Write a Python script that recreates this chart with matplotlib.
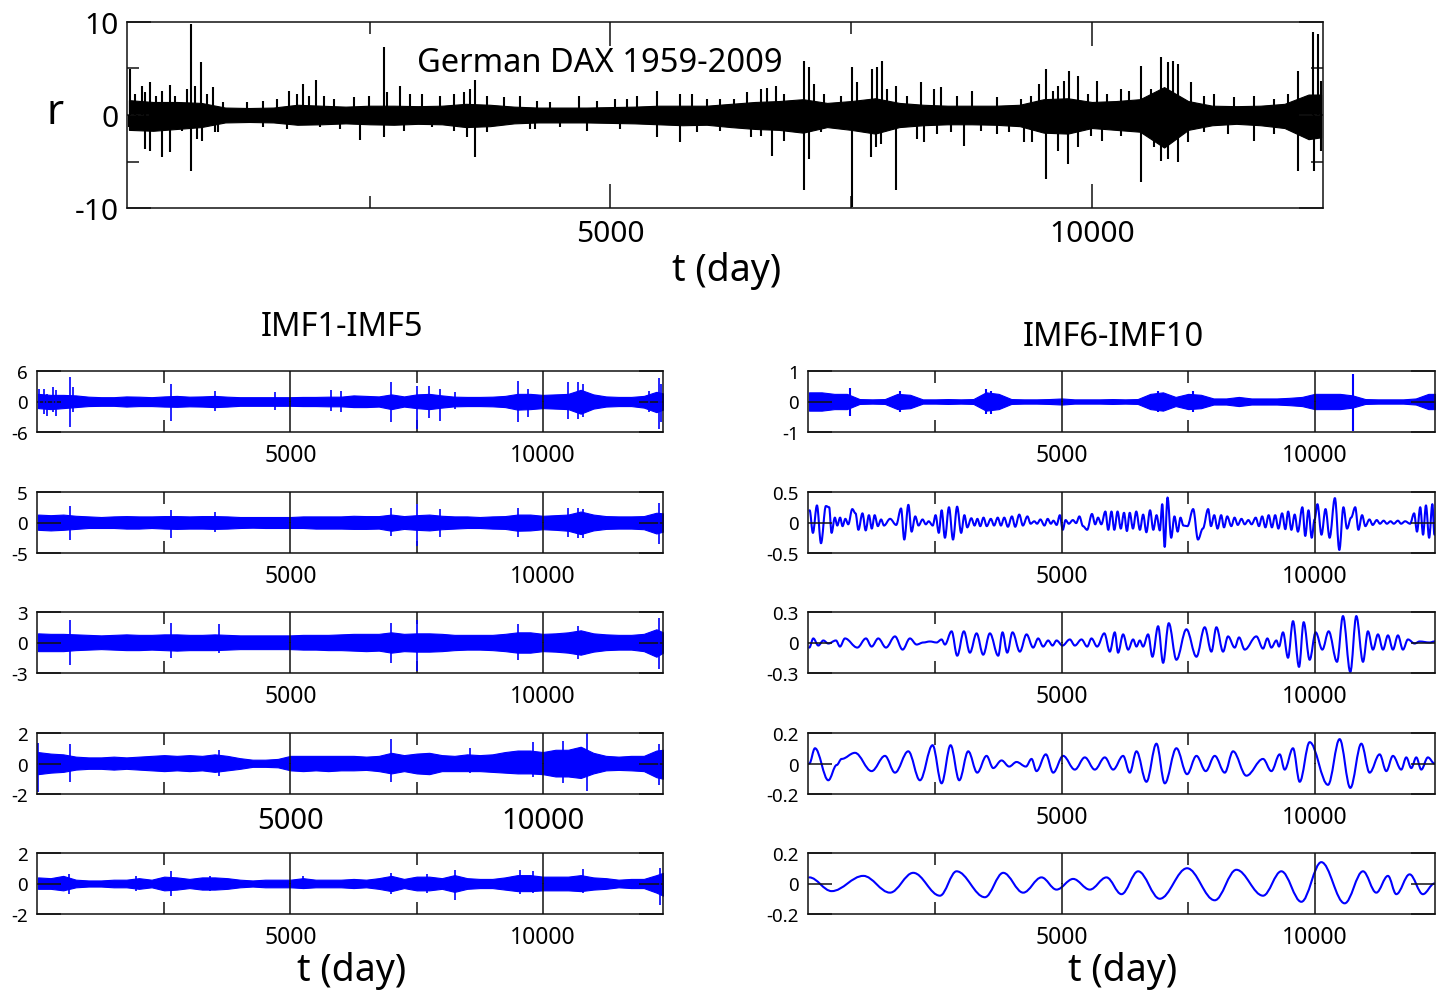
import numpy as np
import matplotlib
matplotlib.use("Agg")
import matplotlib.pyplot as plt
from matplotlib.path import Path
from matplotlib.patches import PathPatch

plt.rcParams['font.family'] = ['Noto Sans', 'DejaVu Sans']
plt.rcParams['axes.unicode_minus'] = False

# ---------------- data ----------------
# sampling days of the envelopes of the dense (noisy) series
env_days = np.append(np.arange(0, 12251, 250), 12380)

# top panel: daily returns r -- solid core of the band
r_upper = [1.6, 1.4, 1.4, 1.3, 0.8, 0.75, 0.8, 1.1, 1.0, 0.9, 1.0, 1.0, 0.95, 1.0, 1.2, 1.1, 0.9, 0.8, 0.8, 0.8,
           0.85, 0.9, 1.0, 1.0, 1.0, 1.2, 1.4, 1.5, 1.7, 1.3, 1.5, 1.8, 1.3, 1.1, 1.0, 1.0, 1.0, 1.1, 1.7, 1.8,
           1.4, 1.5, 1.7, 3.0, 1.5, 1.0, 0.95, 1.0, 1.2, 2.2, 2.2]
r_lower = [-1.6, -1.7, -1.5, -1.3, -0.8, -0.75, -0.8, -1.05, -1.0, -0.9, -1.0, -1.05, -0.95, -1.0, -1.3, -1.2,
           -0.9, -0.8, -0.8, -0.8, -0.85, -0.9, -1.0, -1.1, -1.05, -1.3, -1.5, -1.6, -1.9, -1.3, -1.6, -2.0,
           -1.3, -1.1, -1.0, -1.0, -1.05, -1.2, -1.9, -2.0, -1.4, -1.6, -1.8, -3.5, -1.6, -1.1, -0.95, -1.1,
           -1.4, -2.6, -2.4]
# individual upward / downward excursions of r
r_up_days = [10, 63, 132, 167, 219, 281, 340, 427, 479, 600, 642, 687, 749, 808, 877, 981, 1224, 1397, 1536,
             1667, 1743, 1806, 1865, 1944, 2021, 2125, 2333, 2488, 2644, 2679, 2818, 2922, 3043, 3233, 3372,
             3476, 3545, 3597, 3719, 3892, 4065, 4238, 4376, 4670, 4861, 5052, 5173, 5277, 5485, 5727, 5848,
             6004, 6143, 6282, 6420, 6559, 6628, 6715, 6801, 7009, 7061, 7113, 7217, 7390, 7504, 7564, 7720,
             7772, 7824, 7876, 7962, 8083, 8222, 8361, 8430, 8603, 8759, 9019, 9262, 9365, 9452, 9521, 9591,
             9643, 9712, 9764, 9851, 9955, 10058, 10162, 10301, 10388, 10509, 10613, 10717, 10786, 10838,
             10890, 11029, 11167, 11271, 11479, 11687, 11895, 12034, 12137, 12293, 12345, 12380]
r_up_vals = [4.95, 2.26, 3.15, 2.44, 3.51, 2.08, 2.62, 3.26, 2.08, 2.80, 9.78, 3.15, 5.66, 2.26, 3.05, 1.36, 1.36,
             1.54, 1.72, 2.62, 2.26, 3.33, 2.08, 3.76, 2.08, 1.72, 1.90, 2.08, 7.28, 2.44, 3.15, 2.26, 2.26, 2.08,
             2.26, 2.44, 2.80, 3.76, 2.08, 1.90, 2.08, 1.54, 1.36, 2.08, 1.54, 1.72, 1.72, 2.08, 2.54, 2.26, 2.26,
             1.72, 1.72, 1.72, 2.44, 2.80, 2.90, 3.15, 2.26, 5.84, 5.13, 3.33, 2.26, 2.08, 5.13, 3.51, 4.95, 5.13,
             5.84, 2.80, 3.15, 2.08, 3.51, 2.80, 2.97, 2.08, 2.62, 1.90, 1.72, 2.08, 3.33, 4.95, 2.62, 3.15, 3.69,
             4.77, 4.23, 2.26, 3.69, 2.26, 2.80, 2.62, 5.30, 2.80, 6.20, 5.66, 5.84, 5.48, 3.51, 2.08, 2.26, 1.90,
             2.08, 1.72, 2.26, 4.77, 8.89, 8.71, 3.69]
r_dn_days = [0, 80, 167, 219, 340, 427, 548, 642, 704, 756, 894, 929, 1397, 1640, 1986, 2194, 2402, 2644, 2852,
             3147, 3372, 3511, 3597, 3719, 4169, 4220, 4480, 4757, 5104, 5485, 5727, 5900, 6143, 6455, 6559,
             6680, 6801, 7009, 7061, 7182, 7390, 7504, 7702, 7754, 7806, 7962, 8187, 8257, 8395, 8534, 8672,
             8846, 9019, 9140, 9296, 9383, 9521, 9643, 9747, 9851, 9989, 10110, 10301, 10509, 10648, 10717,
             10786, 10890, 10994, 11167, 11410, 11687, 11895, 12137, 12310, 12380]
r_dn_vals = [-1.33, -1.51, -3.66, -3.84, -4.55, -4.01, -1.68, -6.02, -2.58, -2.76, -1.86, -1.86, -1.33, -1.51,
             -1.33, -1.51, -2.69, -2.40, -1.68, -1.33, -1.68, -2.40, -4.55, -1.86, -1.51, -1.51, -1.33, -1.68,
             -1.51, -2.40, -2.94, -1.86, -1.68, -2.40, -2.22, -4.37, -2.76, -8.06, -4.73, -1.86, -1.51, -9.93,
             -4.55, -3.48, -3.12, -8.06, -2.58, -2.94, -2.04, -1.86, -3.30, -1.68, -2.04, -1.86, -2.94, -2.94,
             -6.88, -3.84, -5.27, -3.48, -2.22, -2.76, -2.22, -7.24, -3.48, -4.91, -4.73, -5.09, -2.94, -1.86,
             -2.04, -2.76, -2.04, -5.98, -5.98, -3.84]

# IMF1 - IMF6 (dense): envelopes of the solid core
imf1_upper = [1.5, 1.3, 1.3, 1.2, 0.95, 0.85, 0.85, 1.0, 0.95, 0.85, 1.0, 1.1, 0.95, 1.0, 1.1, 0.95, 0.85, 0.85,
              0.85, 0.85, 0.85, 0.9, 0.9, 0.95, 0.95, 1.2, 1.1, 1.0, 1.4, 1.0, 1.4, 1.5, 1.2, 0.95, 0.9, 0.9, 0.95,
              1.1, 1.5, 1.5, 1.3, 1.4, 1.5, 2.3, 1.4, 1.0, 0.9, 0.9, 1.1, 1.9, 1.6]
imf1_lower = [-1.3, -1.5, -1.3, -1.1, -0.9, -0.85, -0.85, -1.0, -0.9, -0.9, -1.0, -1.05, -0.95, -1.0, -1.1, -1.0,
              -0.85, -0.85, -0.85, -0.85, -0.85, -0.9, -0.9, -0.95, -0.95, -1.1, -1.1, -1.0, -1.5, -1.0, -1.3,
              -1.5, -1.2, -0.95, -0.9, -0.9, -0.95, -1.1, -1.6, -1.5, -1.3, -1.4, -1.5, -2.4, -1.4, -1.0, -0.9,
              -0.9, -1.2, -2.1, -1.6]
imf1_spike_days = [10, 120, 180, 290, 350, 629, 700, 2633, 3500, 4700, 5800, 6000, 6998, 7505, 7750, 7956,
                   8250, 9505, 9700, 10490, 10700, 10800, 12100, 12300, 12350]
imf1_spike_hi = [2.5, 2.5, 1.5, 2.9, 2.2, 4.9, 2.8, 3.4, 2.0, 1.8, 2.2, 2.0, 3.8, 3.0, 3.0, 2.5,
                 1.8, 4.0, 2.5, 3.9, 3.9, 3.5, 2.0, 4.6, 3.5]
imf1_spike_lo = [-1.5, -2.5, -2.8, -2.0, -2.8, -5.1, -2.0, -3.8, -1.8, -1.6, -1.8, -2.0, -4.1, -5.5, -3.2, -3.9,
                 -1.5, -4.1, -3.0, -3.5, -3.5, -3.0, -2.0, -5.5, -4.0]

imf2_upper = [1.3, 1.2, 1.3, 1.1, 1.0, 0.9, 1.0, 1.05, 1.0, 1.0, 1.05, 1.05, 1.0, 1.05, 1.05, 1.0, 0.9, 0.9, 0.9,
              0.9, 0.9, 1.0, 1.0, 1.0, 1.0, 1.1, 1.05, 1.05, 1.3, 1.05, 1.2, 1.3, 1.1, 1.0, 1.0, 0.9, 1.0, 1.05,
              1.3, 1.3, 1.1, 1.2, 1.3, 1.8, 1.3, 1.05, 1.0, 1.0, 1.05, 1.6, 1.5]
imf2_lower = [-1.2, -1.3, -1.2, -1.05, -0.9, -0.9, -0.9, -1.0, -1.0, -0.9, -1.0, -1.05, -1.0, -1.0, -1.05, -1.0,
              -0.9, -0.85, -0.9, -0.9, -0.9, -0.9, -1.0, -1.0, -1.0, -1.05, -1.05, -1.0, -1.35, -1.05, -1.2, -1.3,
              -1.1, -1.0, -0.9, -0.9, -1.0, -1.05, -1.35, -1.3, -1.1, -1.2, -1.35, -1.9, -1.3, -1.05, -1.0, -1.0,
              -1.1, -1.8, -1.5]
imf2_spike_days = [629, 2633, 3500, 6998, 7505, 7956, 9510, 10490, 10700, 10800, 12300]
imf2_spike_hi = [2.7, 2.0, 1.8, 2.4, 3.0, 2.2, 2.3, 2.3, 2.4, 2.2, 3.2]
imf2_spike_lo = [-2.8, -2.5, -1.5, -2.2, -3.9, -2.4, -2.4, -2.3, -2.5, -2.5, -3.6]

imf3_upper = [0.9, 0.85, 0.85, 0.8, 0.75, 0.7, 0.75, 0.8, 0.75, 0.75, 0.8, 0.8, 0.75, 0.75, 0.8, 0.75, 0.7, 0.7,
              0.7, 0.7, 0.7, 0.75, 0.75, 0.75, 0.8, 0.85, 0.85, 0.85, 1.0, 0.85, 0.9, 0.9, 0.85, 0.75, 0.75, 0.75,
              0.75, 0.85, 1.0, 1.0, 0.85, 0.9, 1.0, 1.2, 0.9, 0.8, 0.75, 0.75, 0.85, 1.3, 1.0]
imf3_lower = [-0.85, -0.85, -0.85, -0.75, -0.7, -0.65, -0.7, -0.75, -0.75, -0.7, -0.75, -0.8, -0.75, -0.75, -0.75,
              -0.7, -0.65, -0.65, -0.65, -0.65, -0.65, -0.7, -0.7, -0.75, -0.75, -0.8, -0.85, -0.8, -1.0, -0.85,
              -0.9, -0.9, -0.85, -0.75, -0.7, -0.7, -0.75, -0.85, -1.0, -1.0, -0.85, -0.9, -1.0, -1.2, -0.9, -0.75,
              -0.7, -0.7, -0.85, -1.4, -1.0]
imf3_spike_days = [629, 2633, 3590, 6998, 7505, 9510, 10700, 12300]
imf3_spike_hi = [2.2, 1.9, 1.8, 1.9, 2.2, 1.8, 1.6, 2.4]
imf3_spike_lo = [-2.2, -1.5, -1.0, -2.0, -2.8, -1.7, -1.6, -2.6]

imf4_upper = [0.75, 0.65, 0.6, 0.45, 0.4, 0.4, 0.45, 0.4, 0.45, 0.5, 0.55, 0.5, 0.55, 0.5, 0.6, 0.5, 0.35, 0.25,
              0.25, 0.3, 0.5, 0.5, 0.5, 0.5, 0.5, 0.5, 0.45, 0.5, 0.7, 0.55, 0.65, 0.7, 0.55, 0.5, 0.6, 0.55,
              0.6, 0.75, 0.85, 0.85, 0.75, 0.9, 0.9, 1.1, 0.7, 0.5, 0.45, 0.5, 0.5, 0.85, 0.9]
imf4_lower = [-0.7, -0.6, -0.55, -0.4, -0.35, -0.35, -0.4, -0.35, -0.4, -0.45, -0.5, -0.45, -0.5, -0.45, -0.55,
              -0.45, -0.35, -0.22, -0.22, -0.25, -0.45, -0.5, -0.45, -0.5, -0.45, -0.45, -0.42, -0.5, -0.65, -0.5,
              -0.65, -0.7, -0.5, -0.5, -0.5, -0.5, -0.55, -0.6, -0.65, -0.65, -0.7, -0.85, -0.85, -0.95, -0.65,
              -0.45, -0.42, -0.45, -0.5, -0.9, -1.0]
imf4_spike_days = [0, 629, 3592, 6998, 8550, 9800, 10400, 10867, 12300]
imf4_spike_hi = [1.35, 1.3, 0.9, 1.6, 1.0, 1.4, 1.5, 2.2, 1.3]
imf4_spike_lo = [-1.9, -1.2, -0.8, -1.2, -0.6, -0.9, -1.3, -1.8, -1.4]

imf5_upper = [0.4, 0.35, 0.5, 0.25, 0.2, 0.2, 0.25, 0.25, 0.35, 0.25, 0.45, 0.4, 0.3, 0.4, 0.4, 0.35, 0.25, 0.2,
              0.25, 0.25, 0.25, 0.35, 0.25, 0.25, 0.25, 0.3, 0.25, 0.35, 0.5, 0.3, 0.45, 0.45, 0.35, 0.55, 0.35,
              0.3, 0.3, 0.4, 0.55, 0.55, 0.45, 0.45, 0.45, 0.55, 0.4, 0.35, 0.25, 0.3, 0.3, 0.55, 0.7]
imf5_lower = [-0.35, -0.35, -0.45, -0.25, -0.2, -0.2, -0.25, -0.25, -0.35, -0.25, -0.45, -0.4, -0.3, -0.4, -0.4,
              -0.35, -0.25, -0.2, -0.25, -0.25, -0.25, -0.3, -0.25, -0.25, -0.25, -0.3, -0.25, -0.35, -0.5, -0.3,
              -0.45, -0.45, -0.35, -0.55, -0.35, -0.3, -0.3, -0.4, -0.5, -0.5, -0.45, -0.45, -0.45, -0.5, -0.4,
              -0.35, -0.25, -0.3, -0.3, -0.6, -0.8]
imf5_spike_days = [616, 1939, 2633, 3400, 5246, 6998, 7700, 8254, 9550, 9800, 10801, 12322]
imf5_spike_hi = [0.65, 0.5, 0.8, 0.5, 0.5, 0.7, 0.6, 0.9, 0.9, 0.8, 0.95, 1.0]
imf5_spike_lo = [-0.7, -0.5, -0.8, -0.5, -0.3, -0.7, -0.6, -1.05, -0.7, -0.6, -0.6, -1.4]

imf6_upper = [0.3, 0.3, 0.25, 0.25, 0.08, 0.07, 0.08, 0.25, 0.22, 0.07, 0.07, 0.08, 0.07, 0.08, 0.3, 0.25, 0.08,
              0.07, 0.07, 0.08, 0.1, 0.07, 0.07, 0.07, 0.08, 0.07, 0.08, 0.25, 0.3, 0.15, 0.25, 0.22, 0.1, 0.1,
              0.15, 0.1, 0.1, 0.1, 0.12, 0.15, 0.25, 0.25, 0.25, 0.2, 0.08, 0.07, 0.07, 0.07, 0.1, 0.25, 0.25]
imf6_lower = [-0.3, -0.3, -0.25, -0.25, -0.08, -0.07, -0.08, -0.25, -0.22, -0.07, -0.07, -0.08, -0.07, -0.08,
              -0.3, -0.25, -0.08, -0.07, -0.07, -0.08, -0.1, -0.07, -0.07, -0.07, -0.08, -0.07, -0.08, -0.25,
              -0.3, -0.15, -0.25, -0.22, -0.1, -0.1, -0.15, -0.1, -0.1, -0.1, -0.12, -0.15, -0.25, -0.25, -0.25,
              -0.2, -0.08, -0.07, -0.07, -0.07, -0.1, -0.25, -0.25]
imf6_spike_days = [820, 1800, 3500, 3600, 6900, 7600, 10758]
imf6_spike_hi = [0.43, 0.35, 0.4, 0.35, 0.35, 0.35, 0.9]
imf6_spike_lo = [-0.47, -0.35, -0.4, -0.4, -0.35, -0.35, -0.97]

# IMF7 - IMF10 (oscillatory): successive extrema (day, value)
imf7_points = [
    (12, 0.20), (77, -0.17), (157, 0.28), (237, -0.34), (334, 0.27), (398, 0.25), (446, -0.17), (511, 0.08),
    (559, -0.05), (615, 0.08), (663, -0.06), (719, 0.06), (776, -0.03), (856, 0.22), (920, 0.15), (977, -0.12),
    (1057, 0.15), (1121, -0.13), (1185, 0.12), (1242, -0.10), (1298, 0.12), (1362, -0.06), (1426, 0.05),
    (1483, -0.05), (1603, 0.06), (1724, -0.04), (1820, 0.23), (1884, -0.28), (1965, 0.29), (2029, -0.15),
    (2101, 0.10), (2166, -0.05), (2246, 0.05), (2310, -0.03), (2366, 0.02), (2447, -0.05), (2503, 0.12),
    (2567, -0.17), (2623, 0.20), (2688, -0.25), (2768, 0.25), (2848, -0.28), (2929, 0.26), (3009, -0.17),
    (3073, 0.12), (3130, -0.08), (3210, 0.07), (3274, -0.05), (3330, 0.06), (3387, -0.06), (3451, 0.08),
    (3515, -0.06), (3596, 0.06), (3660, -0.05), (3732, 0.08), (3796, -0.05), (3861, 0.08), (3933, -0.07),
    (4013, 0.10), (4078, -0.07), (4158, 0.13), (4230, -0.05), (4319, 0.10), (4383, -0.02), (4455, 0.02),
    (4511, -0.02), (4576, 0.05), (4656, -0.05), (4720, 0.06), (4784, -0.02), (4833, 0.03), (4897, -0.04),
    (4961, 0.12), (5018, -0.12), (5074, 0.04), (5138, -0.02), (5218, 0.04), (5283, -0.01), (5347, 0.10),
    (5419, -0.06), (5500, -0.12), (5596, 0.14), (5660, -0.03), (5716, 0.08), (5781, -0.03), (5861, 0.18),
    (5917, -0.12), (5982, 0.18), (6038, -0.12), (6102, 0.18), (6166, -0.10), (6230, 0.16), (6287, -0.14),
    (6343, 0.16), (6407, -0.10), (6472, 0.18), (6544, -0.12), (6608, 0.13), (6672, -0.16), (6745, 0.20),
    (6809, -0.12), (6873, 0.12), (6938, -0.13), (6986, 0.30), (7034, -0.40), (7090, 0.41), (7163, -0.25),
    (7227, 0.10), (7291, -0.15), (7347, 0.08), (7404, -0.05), (7484, -0.06), (7597, 0.22), (7693, -0.28),
    (7789, -0.10), (7894, 0.22), (7950, -0.06), (8014, 0.12), (8079, -0.10), (8151, 0.12), (8207, -0.08),
    (8271, 0.10), (8352, -0.06), (8416, 0.08), (8480, -0.04), (8553, 0.06), (8617, -0.03), (8689, 0.04),
    (8753, -0.03), (8834, 0.08), (8898, -0.06), (8962, 0.10), (9026, -0.08), (9090, 0.12), (9155, -0.08),
    (9219, 0.12), (9283, -0.10), (9356, 0.15), (9420, -0.11), (9476, 0.18), (9540, -0.12), (9605, 0.13),
    (9669, -0.15), (9757, 0.25), (9814, -0.22), (9878, 0.20), (9942, -0.25), (9998, 0.05), (10055, 0.30),
    (10135, -0.20), (10215, 0.22), (10296, -0.25), (10400, 0.40), (10488, -0.45), (10569, 0.25),
    (10641, -0.10), (10721, 0.08), (10802, 0.25), (10866, -0.12), (10938, 0.12), (11003, -0.06),
    (11083, 0.05), (11148, -0.04), (11228, 0.04), (11292, -0.02), (11364, 0.03), (11429, -0.02),
    (11501, 0.02), (11565, -0.02), (11646, 0.03), (11710, -0.02), (11790, 0.02), (11887, -0.02),
    (11967, 0.15), (12024, -0.15), (12088, 0.25), (12144, -0.20), (12201, 0.28), (12264, -0.25),
    (12328, 0.30), (12369, -0.20)]

imf8_points = [
    (6, -0.05), (85, 0.04), (184, -0.03), (283, 0.02), (382, -0.01), (533, 0.02), (612, -0.04), (711, 0.04),
    (955, -0.05), (1126, 0.04), (1238, -0.04), (1370, 0.04), (1522, -0.05), (1700, 0.06), (1851, -0.07),
    (1996, 0.04), (2128, -0.02), (2260, 0.0), (2391, 0.01), (2523, 0.0), (2622, 0.03), (2688, -0.02),
    (2820, 0.11), (2931, -0.13), (3063, 0.11), (3182, -0.10), (3314, 0.09), (3445, -0.12), (3577, 0.09),
    (3742, -0.13), (3827, 0.10), (3920, -0.10), (4025, 0.10), (4170, -0.09), (4302, 0.08), (4433, -0.05),
    (4532, 0.04), (4631, -0.04), (4730, 0.02), (4816, -0.03), (4895, 0.02), (5013, -0.03), (5158, 0.03),
    (5257, -0.03), (5389, 0.03), (5501, -0.04), (5586, 0.04), (5698, -0.04), (5840, 0.09), (5949, -0.09),
    (6047, 0.10), (6113, -0.10), (6212, 0.08), (6311, -0.07), (6410, 0.03), (6476, -0.04), (6542, 0.02),
    (6607, -0.04), (6706, 0.08), (6792, -0.14), (6904, 0.16), (7003, -0.20), (7115, 0.19), (7266, -0.17),
    (7464, 0.13), (7662, -0.14), (7826, 0.15), (7958, -0.09), (8057, 0.15), (8189, -0.09), (8287, 0.06),
    (8419, -0.05), (8505, 0.05), (8617, -0.07), (8847, 0.06), (8979, -0.06), (9065, 0.04), (9144, -0.05),
    (9243, 0.02), (9295, -0.04), (9374, 0.10), (9473, -0.15), (9572, 0.21), (9691, -0.24), (9783, 0.20),
    (9901, -0.17), (10020, 0.10), (10152, -0.07), (10277, 0.11), (10442, -0.19), (10560, 0.26),
    (10705, -0.29), (10824, 0.26), (10956, -0.19), (11054, 0.11), (11153, -0.07), (11252, 0.08),
    (11351, -0.07), (11450, 0.07), (11548, -0.07), (11647, 0.07), (11746, -0.07), (11845, 0.03),
    (11977, -0.01), (12075, 0.01), (12273, 0.0), (12370, 0.01)]

imf9_points = [
    (6, 0.0), (118, 0.10), (382, -0.11), (547, -0.01), (645, 0.03), (909, 0.07), (1238, -0.05), (1502, 0.05),
    (1700, -0.06), (1963, 0.08), (2194, -0.11), (2444, 0.12), (2622, -0.13), (2800, 0.12), (2971, -0.11),
    (3149, 0.08), (3327, -0.06), (3511, 0.05), (3643, -0.03), (3808, 0.02), (3959, -0.02), (4104, 0.01),
    (4289, -0.02), (4401, 0.03), (4499, -0.05), (4684, 0.06), (4829, -0.06), (5026, 0.05), (5257, -0.04),
    (5455, 0.04), (5652, -0.04), (5850, 0.04), (6015, -0.04), (6212, 0.05), (6344, -0.06), (6476, 0.08),
    (6673, -0.12), (6871, 0.13), (7036, -0.13), (7266, 0.10), (7477, -0.07), (7662, 0.05), (7846, -0.05),
    (8024, 0.05), (8222, -0.06), (8386, 0.08), (8650, -0.08), (8979, 0.03), (9144, -0.05), (9309, 0.06),
    (9407, -0.04), (9572, 0.10), (9704, -0.12), (9901, 0.14), (10264, -0.14), (10494, 0.16), (10705, -0.16),
    (10923, 0.13), (11087, -0.06), (11285, 0.06), (11417, -0.05), (11548, 0.05), (11713, -0.04),
    (11812, 0.04), (11911, -0.03), (12010, 0.04), (12108, -0.04), (12240, 0.04), (12370, 0.0)]

imf10_points = [
    (6, 0.04), (448, -0.05), (1074, 0.05), (1601, -0.06), (2062, 0.07), (2589, -0.08), (2918, 0.08),
    (3478, -0.09), (3841, 0.07), (4236, -0.06), (4598, 0.04), (4895, -0.04), (5224, 0.03), (5553, -0.04),
    (5883, 0.04), (6179, -0.07), (6509, 0.08), (6937, -0.10), (7477, 0.10), (8024, -0.11), (8452, 0.09),
    (8979, -0.08), (9341, 0.08), (9737, -0.12), (10132, 0.14), (10593, -0.13), (10956, 0.08), (11219, -0.06),
    (11450, 0.05), (11614, -0.07), (11878, 0.06), (12141, -0.07), (12370, 0.0)]

left_ylims = [6, 5, 3, 2, 2]
left_yticklabels = [["-6", "0", "6"], ["-5", "0", "5"], ["-3", "0", "3"], ["-2", "0", "2"], ["-2", "0", "2"]]
right_ylims = [1, 0.5, 0.3, 0.2, 0.2]
right_yticklabels = [["-1", "0", "1"], ["-0.5", "0", "0.5"], ["-0.3", "0", "0.3"], ["-0.2", "0", "0.2"],
                     ["-0.2", "0", "0.2"]]
xtick_major = [5000, 10000]
xtick_minor = [2500, 7500]

# ---------------- figure ----------------
W, H = 1445, 995
fig = plt.figure(figsize=(W / 100, H / 100), dpi=100)
BLUE = '#0000ff'


def add_ax(l, t, r, b):
    return fig.add_axes([l / W, 1 - b / H, (r - l) / W, (b - t) / H])


def ftext(x, y, s, size, **kw):
    fig.text(x / W, 1 - y / H, s, fontsize=size, ha='center', va='center', **kw)


def draw_band(ax, upper, lower, sd, shi, slo, color, lw=1.2):
    ax.fill_between(env_days, lower, upper, color=color, lw=0.8, edgecolor=color, zorder=1.5)
    ax.vlines(sd, slo, shi, color=color, lw=lw, zorder=1.6)


def draw_smooth(ax, points, color, lw=1.5, f=0.36):
    xs = [p[0] for p in points]
    ys = [p[1] for p in points]
    verts = [(xs[0], ys[0])]
    codes = [Path.MOVETO]
    for i in range(1, len(xs)):
        dx = xs[i] - xs[i - 1]
        verts += [(xs[i - 1] + f * dx, ys[i - 1]), (xs[i] - f * dx, ys[i]), (xs[i], ys[i])]
        codes += [Path.CURVE4] * 3
    ax.add_patch(PathPatch(Path(verts, codes), fill=False, edgecolor=color, lw=lw,
                           capstyle='round', joinstyle='round', zorder=1.5))


def style(ax, xmaj_len, xmin_len, ymaj_len, xlab, ylab, xpad, ypad, ymin_len=None):
    for s in ax.spines.values():
        s.set_linewidth(1.1)
        s.set_color('#111111')
    ax.set_xticks(xtick_major)
    ax.set_xticks(xtick_minor, minor=True)
    ax.tick_params(axis='x', which='major', direction='in', top=True, bottom=True, length=xmaj_len,
                   width=1.1, color='#111111', labelsize=xlab, pad=xpad)
    ax.tick_params(axis='x', which='minor', direction='in', top=True, bottom=True, length=xmin_len,
                   width=1.1, color='#111111')
    ax.tick_params(axis='y', which='major', direction='in', left=True, right=True, length=ymaj_len,
                   width=1.1, color='#111111', labelsize=ylab, pad=ypad)
    if ymin_len is not None:
        ax.tick_params(axis='y', which='minor', direction='in', left=True, right=True, length=ymin_len,
                       width=1.1, color='#111111')


# top panel
ax0 = add_ax(127, 23, 1323, 209)
ax0.fill_between(env_days, r_lower, r_upper, color='black', lw=0.8, zorder=1.5)
ax0.vlines(r_up_days, 0, r_up_vals, color='black', lw=1.5, zorder=1.6)
ax0.vlines(r_dn_days, r_dn_vals, 0, color='black', lw=1.5, zorder=1.6)
ax0.set_xlim(-20, 12400)
ax0.set_ylim(-10, 10)
ax0.set_yticks([-10, 0, 10])
ax0.set_yticks([-5, 5], minor=True)
ax0.set_yticklabels(["-10", "0", "10"])
style(ax0, 17, 8.5, 17, 21.5, 21.5, 8, 6, ymin_len=8.5)

ftext(600, 63, "German DAX 1959-2009", 23.5)
ftext(55, 113, "r", 30)
ftext(727, 271, "t (day)", 27)

# small panels
tops = [372, 493, 613, 734, 854]
left_bands = [(imf1_upper, imf1_lower, imf1_spike_days, imf1_spike_hi, imf1_spike_lo),
              (imf2_upper, imf2_lower, imf2_spike_days, imf2_spike_hi, imf2_spike_lo),
              (imf3_upper, imf3_lower, imf3_spike_days, imf3_spike_hi, imf3_spike_lo),
              (imf4_upper, imf4_lower, imf4_spike_days, imf4_spike_hi, imf4_spike_lo),
              (imf5_upper, imf5_lower, imf5_spike_days, imf5_spike_hi, imf5_spike_lo)]

for i, t in enumerate(tops):
    # left column
    ax = add_ax(37, t, 663, t + 61)
    up, lo, sd, shi, slo = left_bands[i]
    draw_band(ax, up, lo, sd, shi, slo, BLUE)
    lim = left_ylims[i]
    ax.set_xlim(-20, 12380)
    ax.set_ylim(-lim, lim)
    ax.set_yticks([-lim, 0, lim])
    ax.set_yticklabels(left_yticklabels[i])
    if i == 3:
        style(ax, 22, 8.5, 17, 21, 13.5, 9, 6.5)
    else:
        style(ax, 22, 8.5, 17, 16.5, 13.5, 8, 6.5)

    # right column
    axr = add_ax(808, t, 1435, t + 61)
    if i == 0:
        draw_band(axr, imf6_upper, imf6_lower, imf6_spike_days, imf6_spike_hi, imf6_spike_lo, BLUE, lw=1.5)
    else:
        draw_smooth(axr, [imf7_points, imf8_points, imf9_points, imf10_points][i - 1], BLUE)
    lim = right_ylims[i]
    axr.set_xlim(-20, 12380)
    axr.set_ylim(-lim, lim)
    axr.set_yticks([-lim, 0, lim])
    axr.set_yticklabels(right_yticklabels[i])
    style(axr, 22, 8.5, 17, 16.5, 13.5, 8, 6.5)

ftext(342, 327, "IMF1-IMF5", 23.5)
ftext(1113, 337, "IMF6-IMF10", 23.5)
ftext(352, 971, "t (day)", 27)
ftext(1123, 971, "t (day)", 27)

fig.savefig("out.png", dpi=100)
